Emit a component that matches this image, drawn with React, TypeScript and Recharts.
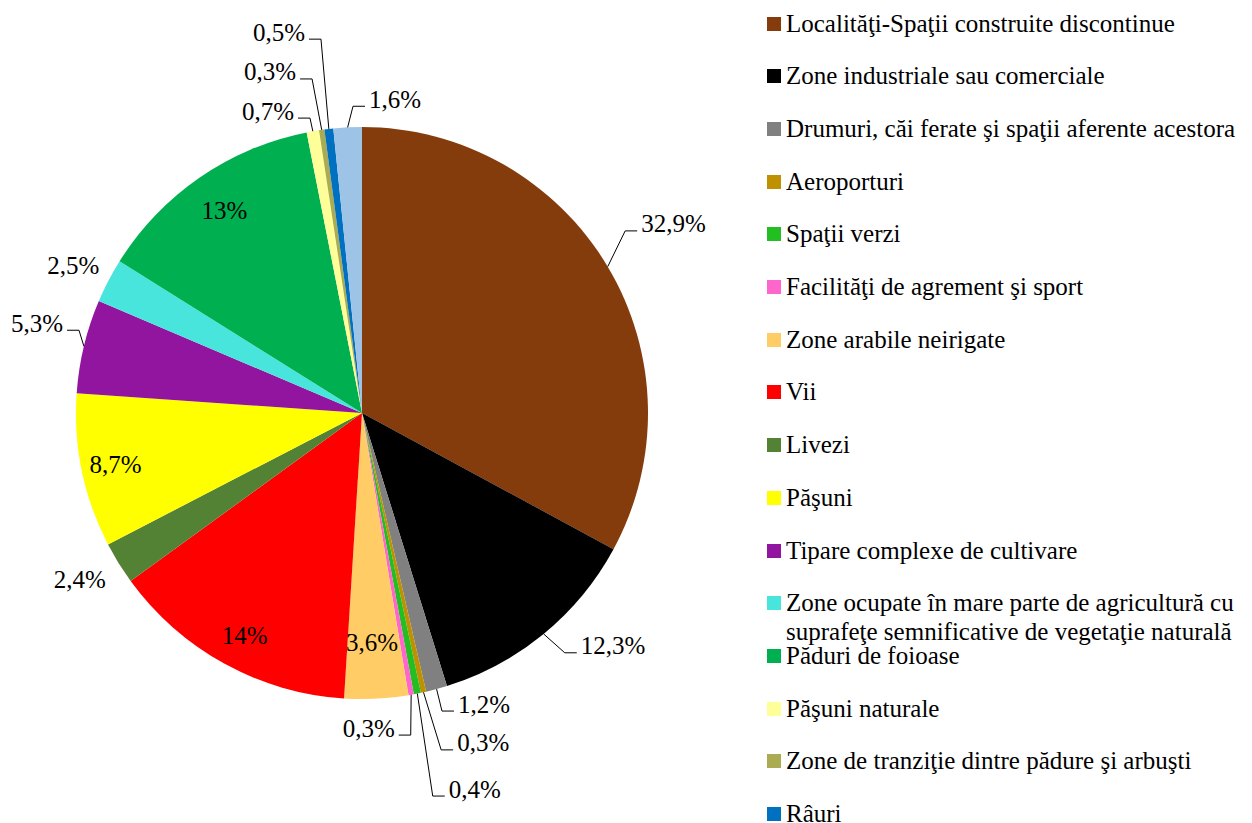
import { Cell, Legend, Pie, PieChart } from "recharts";

const categories = [
  "Localităţi-Spaţii construite discontinue",
  "Zone industriale sau comerciale",
  "Drumuri, căi ferate şi spaţii aferente acestora",
  "Aeroporturi",
  "Spaţii verzi",
  "Facilităţi de agrement şi sport",
  "Zone arabile neirigate",
  "Vii",
  "Livezi",
  "Păşuni",
  "Tipare complexe de cultivare",
  "Zone ocupate în mare parte de agricultură cu suprafeţe semnificative de vegetaţie naturală",
  "Păduri de foioase",
  "Păşuni naturale",
  "Zone de tranziţie dintre pădure şi arbuşti",
  "Râuri",
  "Ape stătătoare",
];

const shares = [32.9, 12.3, 1.2, 0.3, 0.4, 0.3, 3.6, 14, 2.4, 8.7, 5.3, 2.5, 13, 0.7, 0.3, 0.5, 1.6];

const colors = [
  "#843C0C",
  "#000000",
  "#808080",
  "#BF9000",
  "#22BE22",
  "#FF66CC",
  "#FFCC66",
  "#FF0000",
  "#548235",
  "#FFFF00",
  "#9215A0",
  "#48E5DC",
  "#00B050",
  "#FFFF99",
  "#ABAB52",
  "#0070C0",
  "#9DC3E6",
];

// label placement relative to each slice: radius factor, angle shift (deg, clockwise), kind
const placement: { r: number; da: number; kind: "in" | "free" | "right" | "left" }[] = [
  { r: 1.119, da: -3.9, kind: "right" },
  { r: 1.098, da: -0.8, kind: "right" },
  { r: 1.079, da: 0.1, kind: "right" },
  { r: 1.21, da: -0.8, kind: "right" },
  { r: 1.362, da: 0.7, kind: "right" },
  { r: 1.139, da: 1.3, kind: "left" },
  { r: 0.804, da: 0.4, kind: "in" },
  { r: 0.88, da: -1, kind: "in" },
  { r: 1.146, da: 1.1, kind: "free" },
  { r: 0.88, da: 0, kind: "in" },
  { r: 1.031, da: 2.8, kind: "left" },
  { r: 1.133, da: -0.5, kind: "free" },
  { r: 0.855, da: 0.3, kind: "in" },
  { r: 1.047, da: -0.1, kind: "left" },
  { r: 1.181, da: -0.4, kind: "left" },
  { r: 1.315, da: 0.4, kind: "left" },
  { r: 1.073, da: 1.2, kind: "right" },
];

const data = categories.map((name, i) => ({ name, value: shares[i] }));

const FONT = "'Liberation Serif', 'Times New Roman', serif";
const RAD = Math.PI / 180;

const polar = (cx: number, cy: number, r: number, angle: number) => ({
  x: cx + r * Math.cos(-angle * RAD),
  y: cy + r * Math.sin(-angle * RAD),
});

const fmt = (v: number) => String(v).replace(".", ",") + "%";

function renderLabel(props: any) {
  const { cx, cy, midAngle, outerRadius, index } = props;
  const p = placement[index];
  const ang = midAngle - p.da;
  const text = fmt(shares[index]);
  const style = { fontFamily: FONT, fontSize: 25, fill: "#000" };

  if (p.kind === "in" || p.kind === "free") {
    const c = polar(cx, cy, outerRadius * p.r, ang);
    return (
      <text x={c.x} y={c.y} textAnchor="middle" dominantBaseline="central" style={style}>
        {text}
      </text>
    );
  }

  const start = polar(cx, cy, outerRadius, midAngle);
  const elbow = polar(cx, cy, outerRadius * p.r, ang);
  const dir = p.kind === "right" ? 1 : -1;
  const endX = elbow.x + dir * 12;
  return (
    <g>
      <polyline
        points={`${start.x},${start.y} ${elbow.x},${elbow.y} ${endX},${elbow.y}`}
        fill="none"
        stroke="#000"
        strokeWidth={1}
      />
      <text
        x={endX + dir * 4}
        y={elbow.y - 7}
        textAnchor={dir === 1 ? "start" : "end"}
        dominantBaseline="central"
        style={style}
      >
        {text}
      </text>
    </g>
  );
}

function LegendBox() {
  return (
    <div style={{ position: "relative", width: 492, height: 823, fontFamily: FONT }}>
      {categories.map((name, i) => {
        const cy = 23.5 + i * 52.7;
        return (
          <div key={name} style={{ position: "absolute", left: 0, top: cy - 14 }}>
            <div
              style={{
                position: "absolute",
                left: 7,
                top: 7,
                width: 14,
                height: 14,
                background: colors[i],
              }}
            />
            <div
              style={{
                position: "absolute",
                left: 26,
                top: -1,
                width: 470,
                fontSize: 25,
                lineHeight: "29px",
                color: "#000",
              }}
            >
              {name}
            </div>
          </div>
        );
      })}
    </div>
  );
}

export default function App() {
  return (
    <div
      style={{
        position: "absolute",
        left: 0,
        top: 0,
        width: 1252,
        height: 823,
        overflow: "hidden",
        background: "#fff",
      }}
    >
      <PieChart width={1252} height={823} margin={{ top: 0, right: 0, bottom: 0, left: 0 }}>
        <Pie
          data={data}
          dataKey="value"
          nameKey="name"
          cx={362}
          cy={413}
          outerRadius={286}
          startAngle={90}
          endAngle={-270}
          stroke="none"
          label={renderLabel}
          labelLine={false}
          isAnimationActive={false}
        >
          {data.map((d, i) => (
            <Cell key={d.name} fill={colors[i]} />
          ))}
        </Pie>
        <Legend
          layout="vertical"
          content={<LegendBox />}
          wrapperStyle={{ left: 760, top: 0, width: 492, height: 823 }}
        />
      </PieChart>
    </div>
  );
}
